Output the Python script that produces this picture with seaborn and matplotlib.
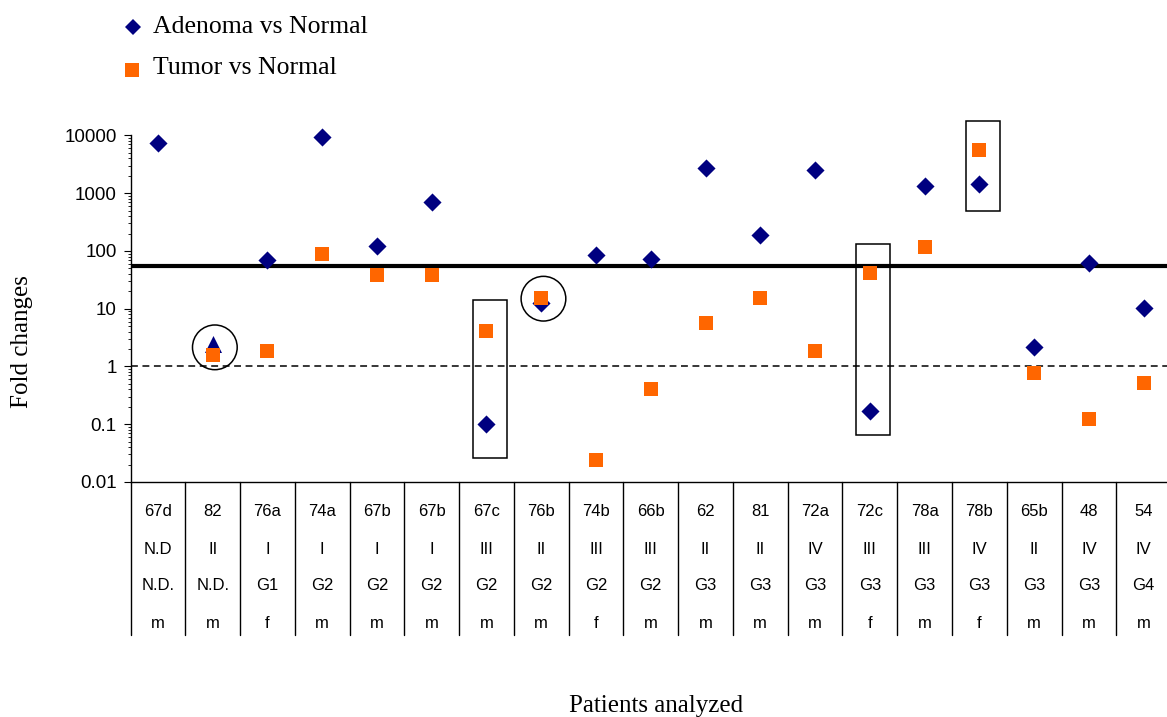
import numpy as np
import pandas as pd
import matplotlib
matplotlib.use("Agg")
import matplotlib.pyplot as plt
import matplotlib.transforms as mtransforms
from matplotlib.patches import Rectangle
from matplotlib.lines import Line2D
from matplotlib.ticker import LogLocator, NullFormatter
import seaborn as sns

# ---------------- data ----------------
patients = ["67d", "82", "76a", "74a", "67b", "67b", "67c", "76b", "74b", "66b",
            "62", "81", "72a", "72c", "78a", "78b", "65b", "48", "54"]
stage = ["N.D", "II", "I", "I", "I", "I", "III", "II", "III", "III",
         "II", "II", "IV", "III", "III", "IV", "II", "IV", "IV"]
grade = ["N.D.", "N.D.", "G1", "G2", "G2", "G2", "G2", "G2", "G2", "G2",
         "G3", "G3", "G3", "G3", "G3", "G3", "G3", "G3", "G4"]
sex = ["m", "m", "f", "m", "m", "m", "m", "m", "f", "m",
       "m", "m", "m", "f", "m", "f", "m", "m", "m"]
adenoma_vs_normal = [7500, 2.47, 69, 9300, 120, 710, 0.10, 12.5, 86, 73,
                     2750, 187, 2575, 0.173, 1320, 1470, 2.17, 62, 10.3]
adenoma_marker = ["D", "^", "D", "D", "D", "D", "D", "D", "D", "D",
                  "D", "D", "D", "D", "D", "D", "D", "D", "D"]
tumor_vs_normal = [np.nan, 1.6, 1.87, 89, 38, 38, 4.1, 15.3, 0.024, 0.405,
                   5.65, 15.4, 1.87, 41.6, 117, 5700, 0.77, 0.122, 0.515]
threshold_value = 54
baseline_value = 1
y_ticks = [0.01, 0.1, 1, 10, 100, 1000, 10000]
y_tick_labels = ["0.01", "0.1", "1", "10", "100", "1000", "10000"]
# highlighted patients (column index, lower, upper bound of box)
boxed = [(6, 0.0264, 13.9), (13, 0.065, 130), (15, 500, 17700)]
circled = [1, 7]

NAVY = "#000080"
ORANGE = "#FF6600"

df = pd.DataFrame({
    "col": np.arange(len(patients)),
    "patient": patients,
    "adenoma": adenoma_vs_normal,
    "tumor": tumor_vs_normal,
    "shape": adenoma_marker,
})

sns.set_theme(style="white")
plt.rcParams["font.family"] = ["Liberation Sans", "DejaVu Sans"]
plt.rcParams["axes.unicode_minus"] = False
for key in ["text.color", "axes.labelcolor", "xtick.color", "ytick.color", "axes.edgecolor"]:
    plt.rcParams[key] = "black"

W, H = 1167, 717
fig = plt.figure(figsize=(W / 100, H / 100), dpi=100)
ax_left, ax_right, ax_top, ax_bottom = 130.5, 1167, 135.5, 482
ax = fig.add_axes([ax_left / W, 1 - ax_bottom / H,
                   (ax_right - ax_left) / W, (ax_bottom - ax_top) / H])
ax.set_facecolor("white")
ax.set_yscale("log")

# reference lines
ax.axhline(threshold_value, color="black", lw=3.0, zorder=2)
ax.axhline(baseline_value, color="black", lw=1.1, linestyle=(0, (4.5, 3)), zorder=2)

# series
dia = df[df["shape"] == "D"]
tri = df[df["shape"] == "^"]
sns.scatterplot(data=dia, x="col", y="adenoma", marker="D", color=NAVY,
                s=85, linewidth=0, legend=False, ax=ax, zorder=3, clip_on=False)
sns.scatterplot(data=tri, x="col", y="adenoma", marker="^", color=NAVY,
                s=150, linewidth=0, legend=False, ax=ax, zorder=3, clip_on=False)
sns.scatterplot(data=df.dropna(subset=["tumor"]), x="col", y="tumor", marker="s",
                color=ORANGE, s=88, linewidth=0, legend=False, ax=ax, zorder=4,
                clip_on=False)

# highlight boxes and circles
for idx, lo, hi in boxed:
    ax.add_patch(Rectangle((idx - 0.25, lo), 0.62, hi - lo, fill=False,
                           edgecolor="black", lw=1.1, zorder=5, clip_on=False))
for idx in circled:
    a = df.loc[idx, "adenoma"]
    t = df.loc[idx, "tumor"]
    ax.scatter([idx + 0.04], [np.sqrt(a * t) * 1.08], s=1036, marker="o",
               facecolors="none", edgecolors="black", linewidths=1.1, zorder=5)

ax.set_xlim(-0.5, 18.425)
ax.set_ylim(0.01, 10000)
ax.set_yticks(y_ticks)
ax.set_yticklabels(y_tick_labels, fontsize=13.5, family="Liberation Sans", color="black")
ax.yaxis.set_minor_locator(LogLocator(base=10, subs=np.arange(2, 10), numticks=20))
ax.yaxis.set_minor_formatter(NullFormatter())
ax.tick_params(axis="y", which="major", direction="out", length=5, width=0.8,
               color="black", pad=5, left=True)
ax.tick_params(axis="y", which="minor", direction="out", length=2.5, width=0.6,
               color="black", left=True)
ax.set_xticks([])
for s in ["top", "right"]:
    ax.spines[s].set_visible(False)
for s in ["left", "bottom"]:
    ax.spines[s].set_color("black")
    ax.spines[s].set_linewidth(1.0)

# table under the axis
trans = mtransforms.blended_transform_factory(ax.transData, ax.transAxes)
axh = ax_bottom - ax_top
row_px = [29.7, 68, 104, 142]
rows = [patients, stage, grade, sex]
for r, labels in zip(row_px, rows):
    for i, lab in enumerate(labels):
        ax.text(i, -r / axh, lab, transform=trans, ha="center", va="center",
                fontsize=12, family="Liberation Sans", color="black", clip_on=False)
for k in range(len(patients)):
    ax.add_line(Line2D([k - 0.5, k - 0.5], [0, -153 / axh], transform=trans,
                       color="black", lw=1.0, clip_on=False))

# axis labels
ax.set_ylabel("Fold changes", fontsize=18, family="Liberation Serif", color="black")
ax.yaxis.label.set_verticalalignment("center")
ax.yaxis.set_label_coords((22 - ax_left) / (ax_right - ax_left), (ax_bottom - 342) / axh)
ax.set_xlabel("Patients analyzed", fontsize=18, family="Liberation Serif", color="black")
ax.xaxis.label.set_verticalalignment("center")
ax.xaxis.set_label_coords((656 - ax_left) / (ax_right - ax_left), (ax_bottom - 706) / axh)

# legend
fig.add_artist(Line2D([132.7 / W], [1 - 27 / H], transform=fig.transFigure,
                      marker="D", color=NAVY, markersize=8.5, linestyle="none",
                      markeredgewidth=0))
fig.add_artist(Line2D([132.3 / W], [1 - 70 / H], transform=fig.transFigure,
                      marker="s", color=ORANGE, markersize=9.4, linestyle="none",
                      markeredgewidth=0))
fig.text(153 / W, 1 - 27 / H, "Adenoma vs Normal", fontsize=18.5,
         family="Liberation Serif", va="center", ha="left", color="black")
fig.text(153 / W, 1 - 68 / H, "Tumor vs Normal", fontsize=18.5,
         family="Liberation Serif", va="center", ha="left", color="black")

fig.savefig("out.png", dpi=100, facecolor="white")
